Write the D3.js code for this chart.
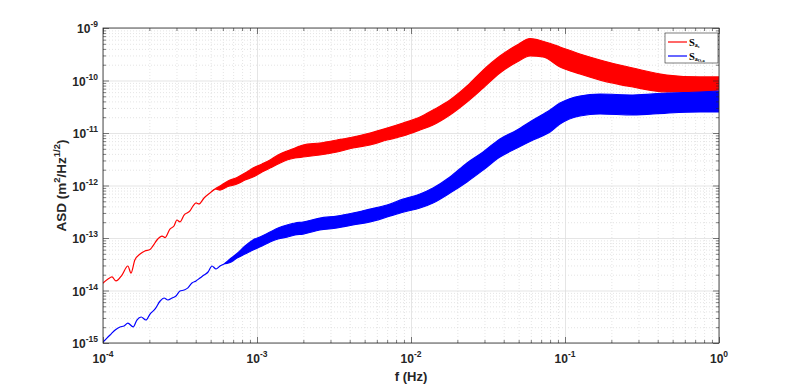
<!DOCTYPE html>
<html><head><meta charset="utf-8">
<script src="https://cdn.jsdelivr.net/npm/d3@7"></script>
<style>body{margin:0;background:#fff}svg{display:block}</style>
</head><body>
<svg id="c" width="793" height="387"></svg>
<script>
// ---------- data ----------
const xTicks = [1e-4, 1e-3, 1e-2, 1e-1, 1];
const xTickExp = ["-4", "-3", "-2", "-1", "0"];
const yTicks = [1e-15, 1e-14, 1e-13, 1e-12, 1e-11, 1e-10, 1e-9];
const yTickExp = ["-15", "-14", "-13", "-12", "-11", "-10", "-9"];

// red series S_a : thin low-frequency part
const redThinFreq = [1e-4,1.078e-4,1.144e-4,1.214e-4,1.328e-4,1.45e-4,1.52e-4,1.61e-4,1.74e-4,1.87e-4,2.02e-4,2.11e-4,2.24e-4,2.42e-4,2.53e-4,2.72e-4,2.89e-4,3.02e-4,3.16e-4,3.36e-4,3.67e-4,3.84e-4,4.02e-4,4.20e-4,4.53e-4,4.95e-4,5.34e-4];
const redThinASD = [1.39e-14,1.66e-14,1.81e-14,1.52e-14,1.97e-14,2.93e-14,2.15e-14,3.81e-14,4.95e-14,5.65e-14,6.04e-14,7.05e-14,9.16e-14,1.09e-13,1.02e-13,1.48e-13,1.69e-13,2.20e-13,2.02e-13,2.74e-13,3.27e-13,4.07e-13,4.65e-13,4.45e-13,5.78e-13,7.19e-13,8.57e-13];
// red series : noisy band (lower / upper envelope)
const redBandFreq = [5.75e-4,6.48e-4,7.42e-4,8.36e-4,9.42e-4,1.078e-3,1.215e-3,1.37e-3,1.566e-3,1.766e-3,1.99e-3,2.56e-3,3.31e-3,4.20e-3,5.42e-3,6.99e-3,8.87e-3,1.144e-2,1.39e-2,1.79e-2,2.31e-2,2.94e-2,3.78e-2,4.88e-2,5.93e-2,7.20e-2,9.28e-2,0.125,0.169,0.276,0.459,0.753,1.0];
const redBandHigh = [9.77e-13,1.22e-12,1.42e-12,1.73e-12,2.15e-12,2.57e-12,3.06e-12,3.81e-12,4.54e-12,5.18e-12,5.91e-12,6.45e-12,7.36e-12,8.39e-12,1.0e-11,1.24e-11,1.55e-11,2.02e-11,2.74e-11,4.25e-11,7.85e-11,1.58e-10,2.93e-10,4.74e-10,6.30e-10,5.60e-10,4.35e-10,3.20e-10,2.46e-10,1.73e-10,1.27e-10,1.17e-10,1.17e-10];
const redBandLow = [8.20e-13,9.57e-13,1.07e-12,1.27e-12,1.45e-12,1.81e-12,2.15e-12,2.57e-12,3.06e-12,3.34e-12,3.49e-12,3.81e-12,4.35e-12,5.18e-12,5.91e-12,7.36e-12,8.77e-12,1.14e-11,1.42e-11,2.20e-11,3.89e-11,7.19e-11,1.39e-10,2.25e-10,2.93e-10,2.81e-10,1.81e-10,1.33e-10,1.02e-10,7.52e-11,6.04e-11,6.04e-11,6.59e-11];

// blue series : thin low-frequency part
const blueThinFreq = [1e-4,1.06e-4,1.127e-4,1.2e-4,1.29e-4,1.37e-4,1.45e-4,1.57e-4,1.66e-4,1.77e-4,1.90e-4,2.02e-4,2.18e-4,2.35e-4,2.49e-4,2.64e-4,2.81e-4,2.98e-4,3.16e-4,3.36e-4,3.56e-4,3.78e-4,4.02e-4,4.26e-4,4.53e-4,4.81e-4,5.10e-4,5.42e-4,5.75e-4,6.11e-4];
const blueThinASD = [1.04e-15,1.24e-15,1.48e-15,1.77e-15,2.02e-15,2.11e-15,2.40e-15,2.02e-15,2.74e-15,3.13e-15,2.74e-15,3.56e-15,4.45e-15,6.31e-15,7.19e-15,6.59e-15,7.19e-15,7.85e-15,9.77e-15,1.02e-14,1.12e-14,1.39e-14,1.52e-14,1.73e-14,1.97e-14,2.25e-14,2.93e-14,2.57e-14,2.93e-14,3.20e-14];
// blue series : noisy band
const blueBandFreq = [6.68e-4,7.42e-4,8.36e-4,9.42e-4,1.078e-3,1.215e-3,1.37e-3,1.566e-3,1.766e-3,1.99e-3,2.56e-3,3.31e-3,4.20e-3,5.42e-3,6.99e-3,8.87e-3,1.144e-2,1.39e-2,1.79e-2,2.31e-2,2.94e-2,3.78e-2,4.88e-2,6.20e-2,7.99e-2,9.28e-2,0.125,0.169,0.276,0.459,0.753,1.0];
const blueBandHigh = [3.98e-14,5.07e-14,7.05e-14,9.16e-14,1.09e-13,1.30e-13,1.55e-13,1.77e-13,1.93e-13,2.02e-13,2.40e-13,2.62e-13,2.99e-13,3.56e-13,4.25e-13,5.50e-13,6.89e-13,8.96e-13,1.45e-12,2.69e-12,4.35e-12,7.69e-12,1.14e-11,1.77e-11,2.74e-11,3.72e-11,5.07e-11,5.53e-11,5.30e-11,5.78e-11,6.04e-11,6.31e-11];
const blueBandLow = [3.41e-14,4.16e-14,4.95e-14,5.91e-14,7.05e-14,8.39e-14,9.57e-14,1.04e-13,1.14e-13,1.19e-13,1.42e-13,1.55e-13,1.77e-13,2.02e-13,2.51e-13,3.10e-13,3.72e-13,4.65e-13,7.19e-13,1.17e-12,1.97e-12,3.49e-12,5.18e-12,7.36e-12,1.04e-11,1.48e-11,2.11e-11,2.30e-11,2.20e-11,2.40e-11,2.51e-11,2.51e-11];

const seriesNames = [{main:"S", sub:"a", subsub:"s"}, {main:"S", sub:"a", subsub:"O,a"}];
const seriesColors = ["#ff0000", "#0000ff"];

// ---------- layout ----------
const W = 793, H = 387;
const m = {l: 103, r: 719, t: 28, b: 343};
const x = d3.scaleLog().domain([1e-4, 1]).range([m.l, m.r]);
const y = d3.scaleLog().domain([1e-15, 1e-9]).range([m.b, m.t]);

const svg = d3.select("#c");
svg.append("rect").attr("width", W).attr("height", H).attr("fill", "#fff");

const minorX = [], minorY = [];
xTicks.slice(0, -1).forEach(t => { for (let j = 2; j <= 9; j++) minorX.push(t * j); });
yTicks.slice(0, -1).forEach(t => { for (let j = 2; j <= 9; j++) minorY.push(t * j); });

// grid
function grid(axis, tr) {
  const g = svg.append("g").attr("transform", tr).call(axis);
  g.select(".domain").remove();
  return g;
}
const gMinX = grid(d3.axisBottom(x).tickValues(minorX).tickSize(-(m.b - m.t)).tickFormat(""), `translate(0,${m.b})`);
const gMinY = grid(d3.axisLeft(y).tickValues(minorY).tickSize(-(m.r - m.l)).tickFormat(""), `translate(${m.l},0)`);
[gMinX, gMinY].forEach(g => g.selectAll("line").attr("stroke", "#d2d2d2").attr("stroke-width", 0.6).attr("stroke-dasharray", "1,2"));
const gMajX = grid(d3.axisBottom(x).tickValues(xTicks).tickSize(-(m.b - m.t)).tickFormat(""), `translate(0,${m.b})`);
const gMajY = grid(d3.axisLeft(y).tickValues(yTicks).tickSize(-(m.r - m.l)).tickFormat(""), `translate(${m.l},0)`);
[gMajX, gMajY].forEach(g => g.selectAll("line").attr("stroke", "#dedede").attr("stroke-width", 0.8));

// data
svg.append("clipPath").attr("id", "pc").append("rect")
  .attr("x", m.l).attr("y", m.t).attr("width", m.r - m.l).attr("height", m.b - m.t);

function build(tf, tv, bf, bl, bh) {
  const pts = tf.map((f, i) => ({f, lo: tv[i], hi: tv[i]}));
  bf.forEach((f, i) => pts.push({f, lo: bl[i], hi: bh[i]}));
  return pts;
}
const datasets = [
  build(redThinFreq, redThinASD, redBandFreq, redBandLow, redBandHigh),
  build(blueThinFreq, blueThinASD, blueBandFreq, blueBandLow, blueBandHigh)
];
const area = d3.area().x(d => x(d.f)).y0(d => y(d.lo)).y1(d => y(d.hi)).curve(d3.curveMonotoneX);
const gd = svg.append("g").attr("clip-path", "url(#pc)");
datasets.forEach((d, i) => {
  gd.append("path").datum(d).attr("d", area)
    .attr("fill", seriesColors[i]).attr("stroke", seriesColors[i])
    .attr("stroke-width", 1.2).attr("stroke-linejoin", "round");
});

// ticks on all four sides (inward)
const axisCol = "#262626";
function ticks(axis, tr) {
  const g = svg.append("g").attr("transform", tr).call(axis);
  g.select(".domain").remove();
  g.selectAll("line").attr("stroke", axisCol).attr("stroke-width", 0.6);
  g.selectAll("text").remove();
}
ticks(d3.axisBottom(x).tickValues(xTicks).tickSizeInner(-6).tickSizeOuter(0).tickFormat(""), `translate(0,${m.b})`);
ticks(d3.axisBottom(x).tickValues(minorX).tickSizeInner(-3).tickSizeOuter(0).tickFormat(""), `translate(0,${m.b})`);
ticks(d3.axisTop(x).tickValues(xTicks).tickSizeInner(-6).tickSizeOuter(0).tickFormat(""), `translate(0,${m.t})`);
ticks(d3.axisTop(x).tickValues(minorX).tickSizeInner(-3).tickSizeOuter(0).tickFormat(""), `translate(0,${m.t})`);
ticks(d3.axisLeft(y).tickValues(yTicks).tickSizeInner(-6).tickSizeOuter(0).tickFormat(""), `translate(${m.l},0)`);
ticks(d3.axisLeft(y).tickValues(minorY).tickSizeInner(-3).tickSizeOuter(0).tickFormat(""), `translate(${m.l},0)`);
ticks(d3.axisRight(y).tickValues(yTicks).tickSizeInner(-6).tickSizeOuter(0).tickFormat(""), `translate(${m.r},0)`);
ticks(d3.axisRight(y).tickValues(minorY).tickSizeInner(-3).tickSizeOuter(0).tickFormat(""), `translate(${m.r},0)`);

svg.append("rect").attr("x", m.l).attr("y", m.t).attr("width", m.r - m.l).attr("height", m.b - m.t)
  .attr("fill", "none").attr("stroke", axisCol).attr("stroke-width", 0.8);

// tick labels
const font = "'Liberation Sans', Arial, Helvetica, sans-serif";
xTicks.forEach((t, i) => {
  const tx = svg.append("text").attr("x", x(t)).attr("y", m.b + 20)
    .attr("text-anchor", "middle").attr("font-family", font).attr("font-weight", "bold")
    .attr("font-size", 12).attr("fill", "#262626");
  tx.append("tspan").text("10");
  tx.append("tspan").attr("font-size", 8.5).attr("dy", -6).text(xTickExp[i]);
});
yTicks.forEach((t, i) => {
  const tx = svg.append("text").attr("x", m.l - 5).attr("y", y(t) + 5)
    .attr("text-anchor", "end").attr("font-family", font).attr("font-weight", "bold")
    .attr("font-size", 12).attr("fill", "#262626");
  tx.append("tspan").text("10");
  tx.append("tspan").attr("font-size", 8.5).attr("dy", -6).text(yTickExp[i]);
});

// axis titles
svg.append("text").attr("x", (m.l + m.r) / 2).attr("y", 381).attr("text-anchor", "middle")
  .attr("font-family", font).attr("font-weight", "bold").attr("font-size", 13).attr("fill", "#262626")
  .text("f (Hz)");
const yt = svg.append("text").attr("transform", `translate(66,${(m.t + m.b) / 2}) rotate(-90)`)
  .attr("text-anchor", "middle").attr("font-family", font).attr("font-weight", "bold")
  .attr("font-size", 13.5).attr("fill", "#262626");
yt.append("tspan").text("ASD (m");
yt.append("tspan").attr("font-size", 9.5).attr("dy", -6).text("2");
yt.append("tspan").attr("dy", 6).text("/Hz");
yt.append("tspan").attr("font-size", 9.5).attr("dy", -6).text("1/2");
yt.append("tspan").attr("dy", 6).text(")");

// legend
const lg = svg.append("g");
lg.append("rect").attr("x", 665).attr("y", 33).attr("width", 53).attr("height", 30)
  .attr("fill", "#fff").attr("stroke", axisCol).attr("stroke-width", 0.6);
seriesNames.forEach((s, i) => {
  const ly = 42 + i * 14;
  lg.append("line").attr("x1", 668).attr("x2", 687).attr("y1", ly).attr("y2", ly)
    .attr("stroke", seriesColors[i]).attr("stroke-width", 1.2);
  const t = lg.append("text").attr("x", 689).attr("y", ly + 3.5)
    .attr("font-family", "'Liberation Serif', 'Times New Roman', serif").attr("font-weight", "bold")
    .attr("font-size", 10.5).attr("fill", "#000");
  t.append("tspan").text(s.main);
  t.append("tspan").attr("font-size", 6).attr("dy", 1.5).text(s.sub);
  t.append("tspan").attr("font-size", 4.5).attr("dy", 1).text(s.subsub);
});
</script>
</body></html>
